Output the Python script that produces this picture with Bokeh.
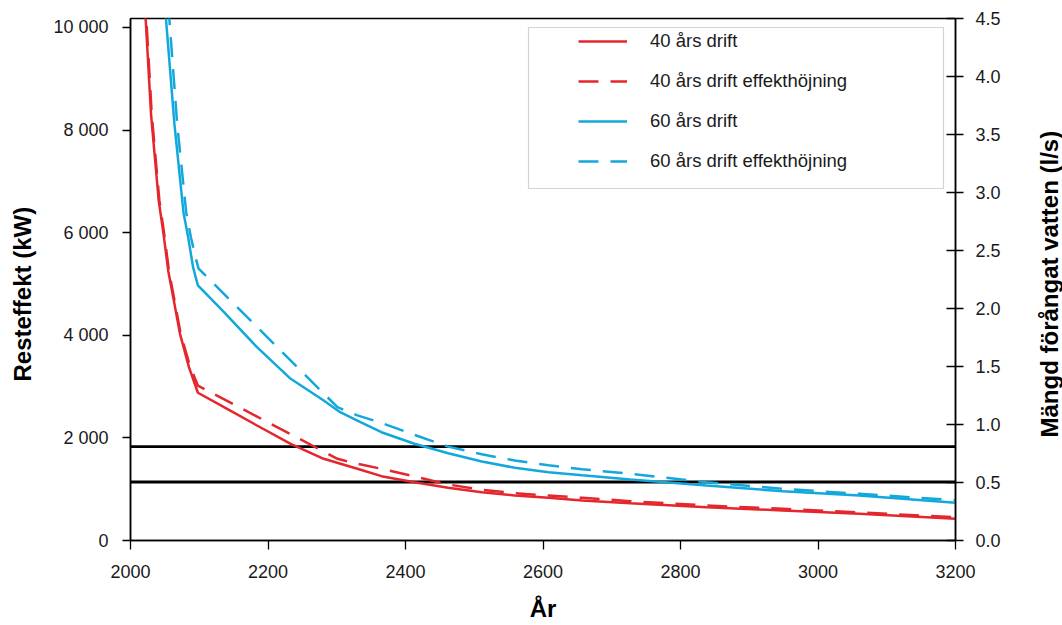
import math
from bokeh.plotting import figure
from bokeh.layouts import row
from bokeh.models import (Range1d, LinearAxis, FixedTicker, Legend, LegendItem,
                          BoxAnnotation, NumeralTickFormatter)
from bokeh.core.properties import value
from bokeh.embed import file_html
from bokeh.resources import INLINE

# ---------------- data ----------------
years_40 = [2020, 2030, 2041, 2048, 2055, 2063, 2072, 2085, 2098, 2136, 2184, 2233,
            2281, 2330, 2365, 2413, 2462, 2511, 2559, 2608, 2657, 2727, 2838, 2949,
            3060, 3200]
kw_40 = [10650, 8285, 6628, 5978, 5250, 4678, 4029, 3379, 2880, 2599, 2242, 1885,
         1593, 1398, 1254, 1137, 1027, 942, 877, 832, 780, 727, 649, 585,
         520, 425]

years_40_up = [2021, 2031, 2042, 2049, 2056, 2064, 2073, 2086, 2098, 2301, 2330, 2365,
               2413, 2462, 2511, 2559, 2608, 2657, 2727, 2838, 2949, 3060, 3200]
kw_40_up = [10650, 8285, 6628, 5978, 5250, 4678, 4029, 3420, 3020, 1593, 1495, 1398,
            1248, 1092, 988, 922, 877, 832, 767, 682, 617, 546, 455]

years_60 = [2050, 2064, 2077, 2084, 2091, 2098, 2136, 2184, 2233, 2281, 2305, 2330,
            2365, 2413, 2462, 2511, 2559, 2608, 2657, 2727, 2838, 2949, 3060, 3200]
kw_60 = [10434, 8100, 6400, 5900, 5328, 4971, 4450, 3768, 3152, 2729, 2501, 2339,
         2111, 1885, 1702, 1540, 1417, 1332, 1270, 1190, 1072, 961, 877, 735]

years_60_up = [2055, 2068, 2081, 2088, 2095, 2099, 2301, 2330, 2365, 2413, 2462, 2511,
               2559, 2608, 2657, 2727, 2838, 2949, 3060, 3200]
kw_60_up = [10434, 8100, 6400, 5900, 5500, 5300, 2598, 2440, 2290, 2060, 1830, 1680,
            1560, 1465, 1390, 1300, 1137, 1007, 910, 785]

ref_levels_kw = [1830, 1140]

x_ticks = [2000, 2200, 2400, 2600, 2800, 3000, 3200]
left_ticks = [0, 2000, 4000, 6000, 8000, 10000]
left_tick_labels = ["0", "2 000", "4 000", "6 000", "8 000", "10 000"]
right_ticks = [0.0, 0.5, 1.0, 1.5, 2.0, 2.5, 3.0, 3.5, 4.0, 4.5]

series_labels = ["40 års drift", "40 års drift effekthöjning",
                 "60 års drift", "60 års drift effekthöjning"]
x_title = "År"
left_title = "Resteffekt (kW)"
right_title = "Mängd förångat vatten (l/s)"

# ---------------- styling ----------------
RED = "#e4262d"
BLUE = "#12a8dc"
FONT = "Liberation Sans"
TXT = "#1a1a1a"

X_MIN, X_MAX = 2000, 3200
KW_MAX = 10175
LS_MAX = 4.5

H = 625
W_LEFT, W_MAIN, W_RIGHT = 45, 967, 50
FRAME_L, FRAME_R, FRAME_T, FRAME_B = 130, 955, 18, 540   # page pixels

p = figure(width=W_MAIN, height=H, output_backend="svg", toolbar_location=None,
           x_range=Range1d(X_MIN, X_MAX), y_range=Range1d(0, KW_MAX),
           min_border_left=FRAME_L - W_LEFT,
           min_border_right=W_LEFT + W_MAIN - FRAME_R,
           min_border_top=FRAME_T, min_border_bottom=H - FRAME_B)
p.extra_y_ranges = {"ls": Range1d(0, LS_MAX)}
p.xgrid.grid_line_color = None
p.ygrid.grid_line_color = None
p.outline_line_color = "black"
p.outline_line_width = 1.5
p.background_fill_color = "white"
p.border_fill_color = "white"

# reference levels (black horizontal lines)
p.segment(x0=[X_MIN] * len(ref_levels_kw), x1=[X_MAX] * len(ref_levels_kw),
          y0=ref_levels_kw, y1=ref_levels_kw, line_color="black", line_width=2.8)

r40 = p.line(years_40, kw_40, line_color=RED, line_width=2.5)
r40u = p.line(years_40_up, kw_40_up, line_color=RED, line_width=2.5, line_dash="20 12")
r60 = p.line(years_60, kw_60, line_color=BLUE, line_width=2.5)
r60u = p.line(years_60_up, kw_60_up, line_color=BLUE, line_width=2.5, line_dash="20 12")

# ---------------- axes ----------------
def style_axis(ax):
    ax.axis_line_color = "black"
    ax.axis_line_width = 1.5
    ax.major_tick_line_color = "black"
    ax.major_tick_line_width = 1.3
    ax.minor_tick_line_color = None
    ax.major_label_text_font = FONT
    ax.major_label_text_font_size = "18px"
    ax.major_label_text_color = TXT
    ax.axis_label_text_font = FONT
    ax.axis_label_text_font_size = "24px"
    ax.axis_label_text_font_style = "bold"
    ax.axis_label_text_color = "black"

xa = p.xaxis[0]
style_axis(xa)
xa.ticker = FixedTicker(ticks=x_ticks)
xa.major_tick_out = 9
xa.major_tick_in = 0
xa.major_label_standoff = 15
xa.axis_label = x_title
xa.axis_label_standoff = 14

ya = p.yaxis[0]
style_axis(ya)
ya.ticker = FixedTicker(ticks=left_ticks)
ya.major_label_overrides = {t: s for t, s in zip(left_ticks, left_tick_labels)}
ya.major_tick_out = 8
ya.major_tick_in = 0
ya.major_label_standoff = 14

ra = LinearAxis(y_range_name="ls", ticker=FixedTicker(ticks=right_ticks),
                formatter=NumeralTickFormatter(format="0.0"))
style_axis(ra)
ra.major_tick_out = 8
ra.major_tick_in = 9
ra.major_label_standoff = 12
p.add_layout(ra, "right")

# ---------------- legend ----------------
legend = Legend(items=[LegendItem(label=l, renderers=[r])
                       for l, r in zip(series_labels, [r40, r40u, r60, r60u])],
                location=(438, 358), padding=10, spacing=18,
                label_height=20, glyph_height=20, glyph_width=49,
                label_standoff=23, label_text_font=FONT,
                label_text_font_size="18.5px", label_text_color=TXT,
                border_line_alpha=0, background_fill_alpha=0)
p.add_layout(legend)

px_per_year = (FRAME_R - FRAME_L) / (X_MAX - X_MIN)
px_per_kw = (FRAME_B - FRAME_T) / KW_MAX
box = BoxAnnotation(left=X_MIN + (528 - FRAME_L) / px_per_year,
                    right=X_MIN + (943 - FRAME_L) / px_per_year,
                    top=(FRAME_B - 27) / px_per_kw, bottom=(FRAME_B - 188) / px_per_kw,
                    fill_alpha=0, line_color="#6a6a6a", line_width=1.2)
p.add_layout(box)

# ---------------- title strips (vertical titles read bottom-to-top) ----------------
# In a row the plot frames are aligned, so a strip's frame spans FRAME_T..FRAME_B;
# its y range is set so that data y = H - page_y.
def title_strip(width, text, cx, start_y):
    s = figure(width=width, height=H, output_backend="svg", toolbar_location=None,
               x_range=Range1d(0, width), y_range=Range1d(H - FRAME_B, H - FRAME_T),
               x_axis_location=None, y_axis_location=None, min_border=0)
    s.outline_line_color = None
    s.xgrid.grid_line_color = None
    s.ygrid.grid_line_color = None
    s.background_fill_color = "white"
    s.border_fill_color = "white"
    s.text(x=[cx], y=[H - start_y], text=[text], angle=math.pi / 2,
           text_align="left", text_baseline="middle", text_font=value(FONT),
           text_font_size="24px", text_font_style="bold", text_color="black")
    return s

left_strip = title_strip(W_LEFT, left_title, 22, 381)
right_strip = title_strip(W_RIGHT, right_title, 1049 - W_LEFT - W_MAIN, 437)

layout = row(left_strip, p, right_strip, spacing=0)
open("out.html", "w").write(file_html(layout, INLINE))
